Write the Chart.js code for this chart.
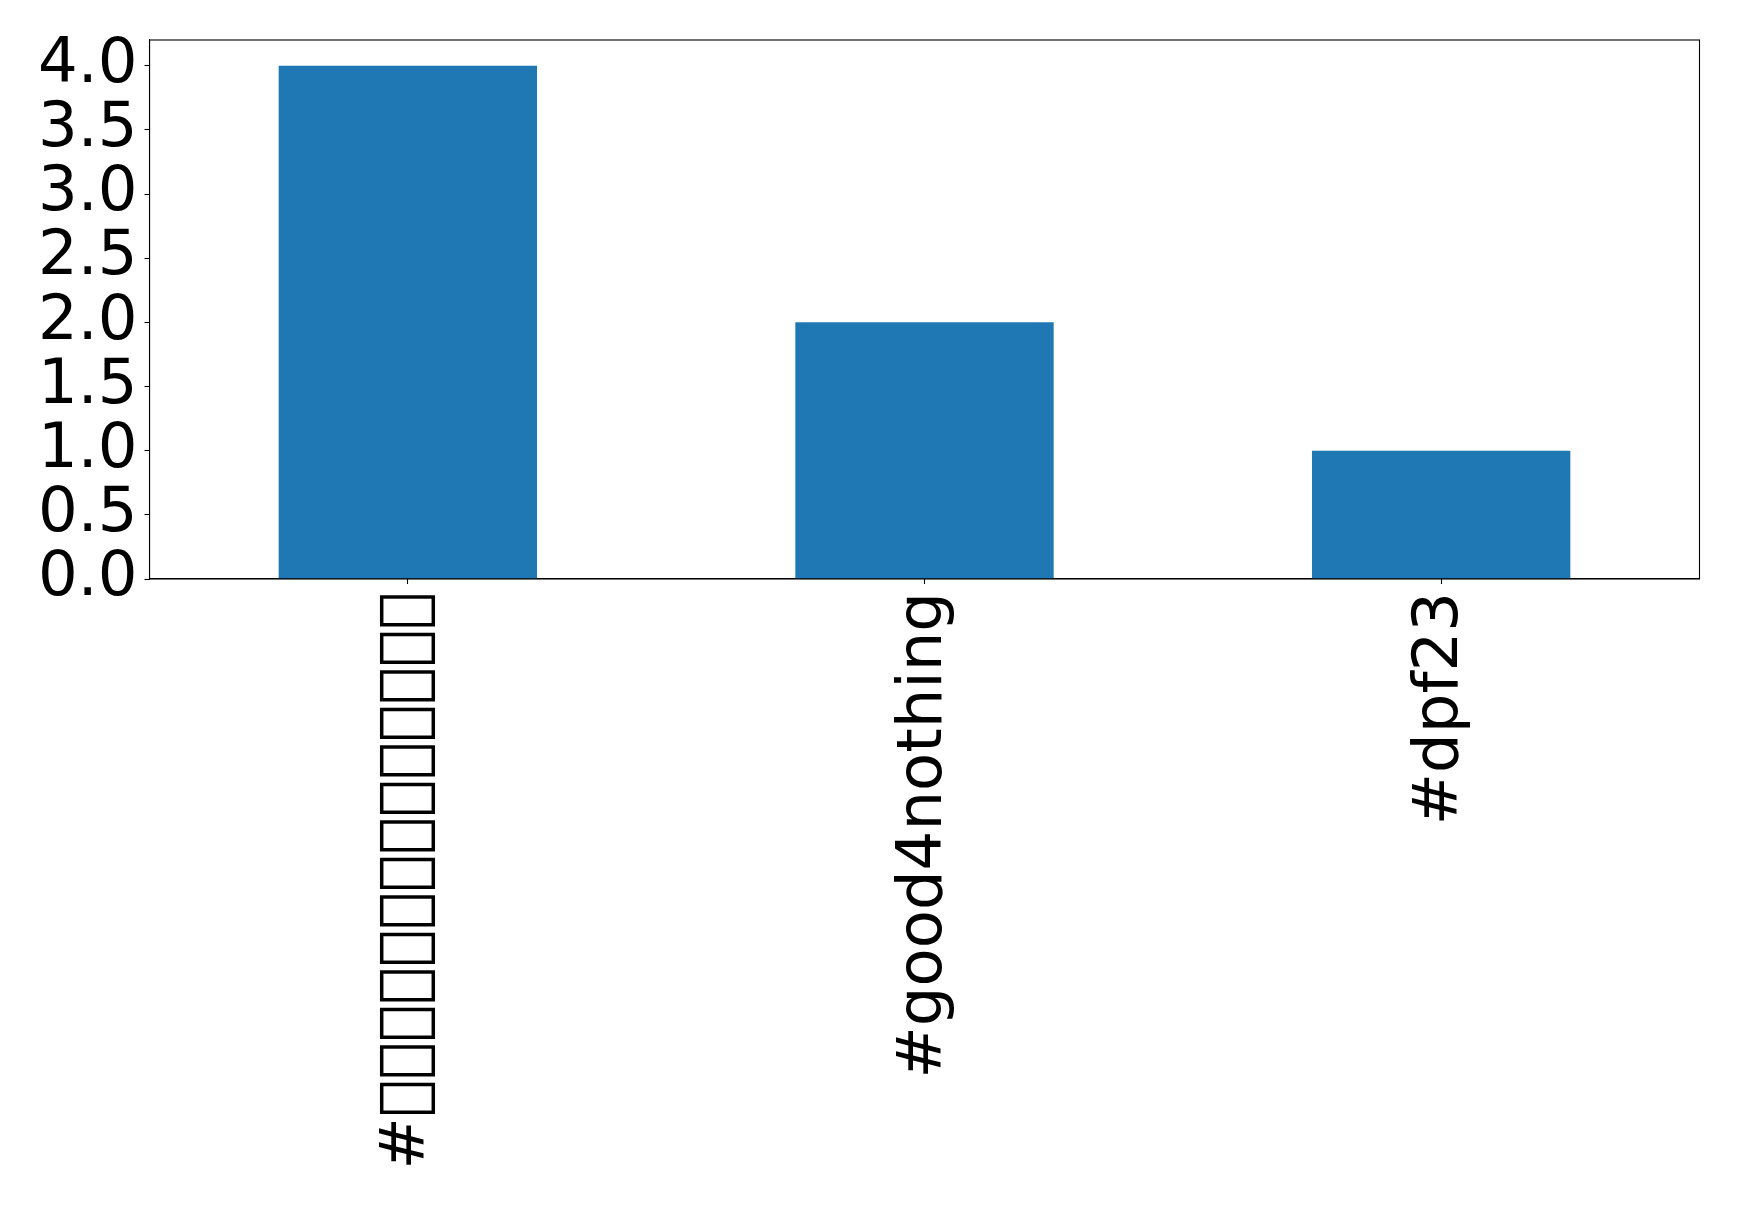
<!DOCTYPE html>
<html>
<head>
<meta charset="utf-8">
<script src="https://cdn.jsdelivr.net/npm/chart.js@4/dist/chart.umd.min.js"></script>
<style>
html,body{margin:0;padding:0;background:#fff;}
#wrap{width:1739px;height:1206px;position:relative;}
</style>
</head>
<body>
<div id="wrap"><canvas id="c" width="1739" height="1206"></canvas></div>
<script>
// First hashtag's characters could not be rendered in the source (shown as missing-glyph boxes)
const categories = ["#\uE000\uE000\uE000\uE000\uE000\uE000\uE000\uE000\uE000\uE000\uE000\uE000\uE000\uE000", "#good4nothing", "#dpf23"];
const counts = [4, 2, 1];
const yTicks = [0, 0.5, 1, 1.5, 2, 2.5, 3, 3.5, 4];

const frame = {
  id: 'frame',
  afterDraw(chart) {
    const a = chart.chartArea, ctx = chart.ctx;
    ctx.save();
    ctx.strokeStyle = '#000';
    ctx.lineWidth = 1.1;
    ctx.strokeRect(a.left, a.top, a.right - a.left, a.bottom - a.top);
    ctx.restore();
  }
};

new Chart(document.getElementById('c'), {
  type: 'bar',
  data: {
    labels: categories,
    datasets: [{ data: counts, backgroundColor: '#1f77b4', borderWidth: 0,
      barPercentage: 0.5, categoryPercentage: 1.0 }]
  },
  options: {
    responsive: false,
    animation: false,
    devicePixelRatio: 1,
    layout: { padding: { top: 40, right: 39.5, left: 0, bottom: 0 } },
    plugins: { legend: { display: false }, tooltip: { enabled: false } },
    scales: {
      x: {
        offset: true,
        grid: { display: true, drawOnChartArea: false, tickLength: 5, color: '#000', tickWidth: 1.1, offset: false },
        border: { display: true, color: '#000', width: 1.1 },
        ticks: { color: '#000', font: { family: 'DejaVu Sans', size: 62.5 }, maxRotation: 90, minRotation: 90, padding: 8, autoSkip: false },
        afterFit(s) { s.height = 1206 - 579; s.paddingLeft = 0; s.paddingRight = 0; }
      },
      y: {
        min: 0, max: 4.2,
        afterBuildTicks(s) { s.ticks = yTicks.map(v => ({ value: v })); },
        grid: { display: true, drawOnChartArea: false, tickLength: 5, color: '#000', tickWidth: 1.1 },
        border: { display: true, color: '#000', width: 1.1 },
        ticks: { color: '#000', font: { family: 'DejaVu Sans', size: 62.5 }, padding: 7, autoSkip: false,
          callback: v => Number(v).toFixed(1) },
        afterFit(s) { s.width = 149.5; s.paddingTop = 0; s.paddingBottom = 0; }
      }
    }
  },
  plugins: [frame]
});
</script>
</body>
</html>
